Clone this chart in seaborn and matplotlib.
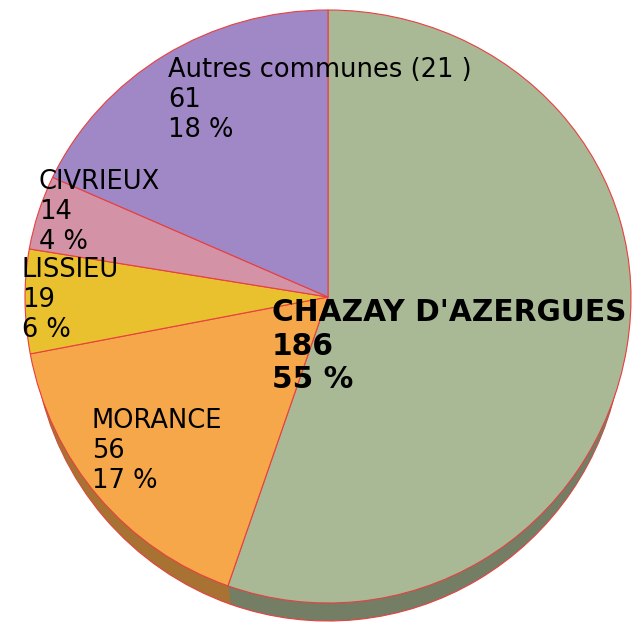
import numpy as np
import matplotlib
matplotlib.use("Agg")
import matplotlib.pyplot as plt
import seaborn as sns

# Data
communes = ["CHAZAY D'AZERGUES", "MORANCE", "LISSIEU", "CIVRIEUX", "Autres communes (21 )"]
effectifs = [186, 56, 19, 14, 61]
pourcents = ["55 %", "17 %", "6 %", "4 %", "18 %"]
couleurs = ["#a9b995", "#f5a74a", "#e9c02d", "#d492a6", "#a088c6"]

sns.set_style("white")
plt.rcParams['font.family'] = ['DejaVu Sans']

W, H = 633, 625
fig = plt.figure(figsize=(W / 100, H / 100), dpi=100)
ax = fig.add_axes([0, 0, 1, 1])

# pie geometry in pixels: centre, horizontal radius, far/near vertical radius
cx, cy, rx, ry_top, ry_bot, depth = 328, 297, 303, 287, 306, 18


def fwd(y):
    y = np.asarray(y, dtype=float)
    return np.where(y > 0, y * ry_top, y * ry_bot)


def inv(v):
    v = np.asarray(v, dtype=float)
    return np.where(v > 0, v / ry_top, v / ry_bot)


ax.set_yscale('function', functions=(fwd, inv))

sombres = [tuple(c * 0.68 for c in matplotlib.colors.to_rgb(col)) for col in couleurs]

# side of the disc (extrusion), slightly narrower at the bottom for perspective
r_bas = 0.975
n_couches = 20
for k in range(n_couches, 0, -1):
    t = k / n_couches
    r = 1 - (1 - r_bas) * t
    c = -(1 + depth / ry_bot - r) * t
    edge = "#e84040" if k == n_couches else "none"
    ax.pie(effectifs, colors=sombres, startangle=90, counterclock=False,
           center=(0, c), radius=r, frame=True,
           wedgeprops=dict(edgecolor=edge, linewidth=0.8))

# top face
ax.pie(effectifs, colors=couleurs, startangle=90, counterclock=False,
       center=(0, 0), radius=1, frame=True,
       wedgeprops=dict(edgecolor="#e84040", linewidth=0.8))

ax.set_aspect('auto')
ax.set_xlim(-cx / rx, (W - cx) / rx)
ax.set_ylim(-(H - cy) / ry_bot, cy / ry_top)
ax.axis('off')

# labels (left x, cap top y in pixels)
positions = [(272, 301), (92, 411), (22, 260), (39, 172), (168, 60)]
for nom, n, p, (px, py), i in zip(communes, effectifs, pourcents, positions, range(5)):
    gras = i == 0
    ax.text(px / W, 1 - (py - 3) / H, f"{nom}\n{n}\n{p}",
            transform=ax.transAxes, ha='left', va='top',
            fontsize=21.3 if gras else 18.5,
            linespacing=1.2, color='black',
            fontweight='bold' if gras else 'normal')

fig.savefig("out.png", dpi=100)
